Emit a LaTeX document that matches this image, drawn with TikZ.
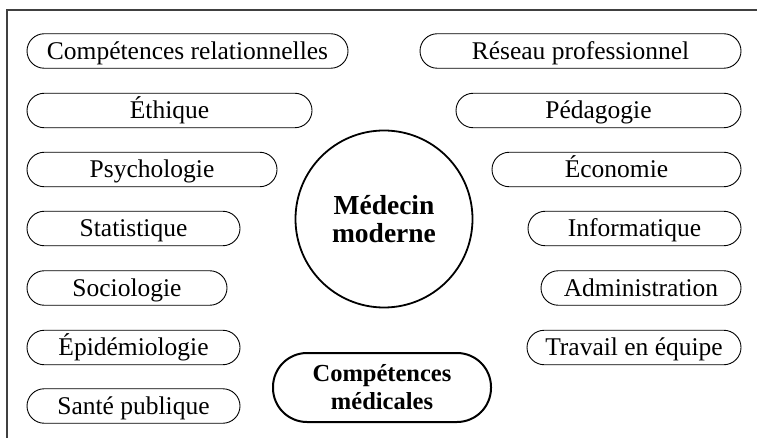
\documentclass[tikz,border=0pt]{standalone}
\usepackage{fontspec}
\setmainfont{Liberation Serif}
\begin{document}
\begin{tikzpicture}[x=1pt,y=-1pt,
  pill/.style={draw, line width=0.9pt, rounded corners=17.25pt, inner sep=0pt,
    minimum height=34.5pt, text height=16.8pt, text depth=0pt,
    font=\fontsize{25.5}{29}\selectfont},
  hub/.style={draw, circle, line width=1.8pt, minimum size=177pt, inner sep=0pt,
    align=center, font=\fontsize{27.5}{28}\selectfont\bfseries},
  corepill/.style={draw, line width=2pt, rounded corners=34pt, inner sep=0pt,
    minimum width=218pt, minimum height=69pt, align=center,
    font=\fontsize{24.5}{28}\selectfont\bfseries},
  frameline/.style={draw=black!75, line width=1.1pt}]
\useasboundingbox (0,0) rectangle (757,438);

% open frame: top and left edges
\coordinate (ftr) at (757,10);
\coordinate (ftl) at (7,10);
\coordinate (fbl) at (7,438);
\draw[frameline] (ftr) -- (ftl) -- (fbl);

% left column
\node[pill, minimum width=321pt] (comprel) at (187.5,51)  {Compétences relationnelles};
\node[pill, minimum width=285pt] (ethique) at (169.5,110.5) {Éthique};
\node[pill, minimum width=250pt] (psycho)  at (152,169.5) {Psychologie};
\node[pill, minimum width=213pt] (stat)    at (133.5,228.5) {Statistique};
\node[pill, minimum width=200pt] (socio)   at (127,288)   {Sociologie};
\node[pill, minimum width=213pt] (epid)    at (133.5,347.5) {Épidémiologie};
\node[pill, minimum width=213pt] (sante)   at (133.5,406) {Santé publique};

% right column
\node[pill, minimum width=321pt] (reseau)  at (580.5,51)  {Réseau professionnel};
\node[pill, minimum width=285pt] (peda)    at (598.5,110.5) {Pédagogie};
\node[pill, minimum width=249pt] (eco)     at (616.5,169.5) {Économie};
\node[pill, minimum width=213pt] (info)    at (634.5,228.5) {Informatique};
\node[pill, minimum width=200pt] (admin)   at (641,288)   {Administration};
\node[pill, minimum width=214pt] (travail) at (634,347.5) {Travail en équipe};

% centre
\node[hub] (medecin) at (384,219) {Médecin\\moderne};
\node[corepill] (medic) at (382,387.5) {Compétences\\médicales};
\end{tikzpicture}
\end{document}
